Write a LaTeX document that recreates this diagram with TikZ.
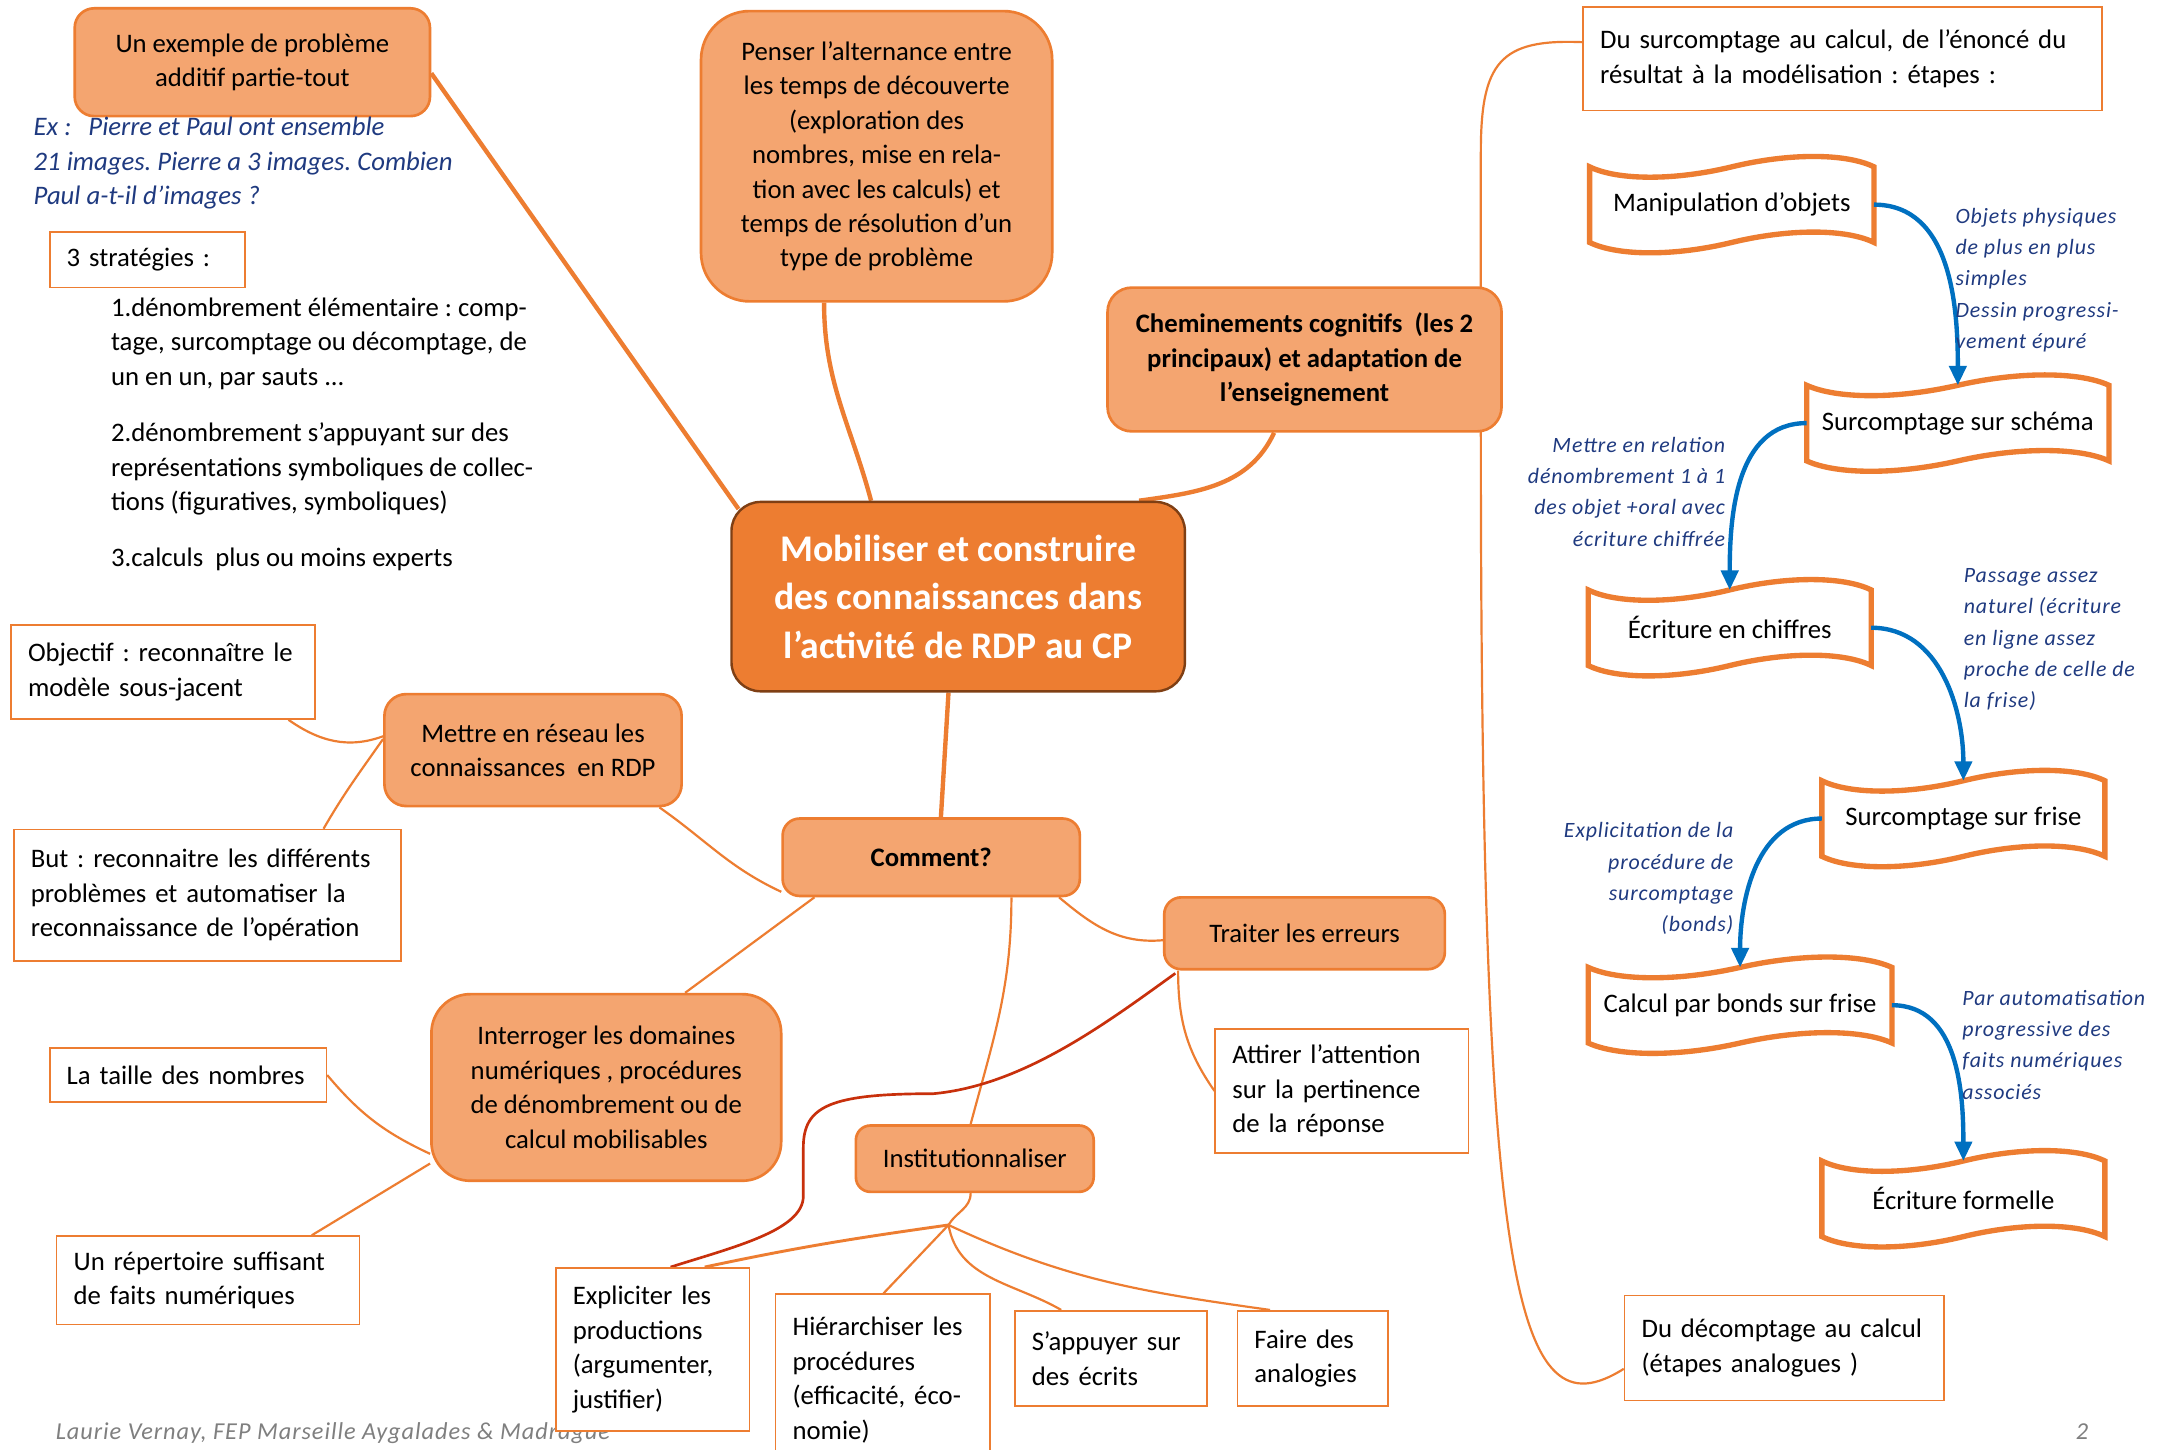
\documentclass[tikz,border=0pt]{standalone}
\usepackage{fontspec}
\setmainfont{Carlito}
\newfontfamily\glossfont[LetterSpace=4]{Carlito}
\usetikzlibrary{arrows.meta,calc,backgrounds}
\frenchspacing
\definecolor{orfill}{HTML}{F4A570}
\definecolor{ordraw}{HTML}{ED7D31}
\definecolor{ordark}{HTML}{7F3F14}
\definecolor{navy}{HTML}{1F3A80}
\definecolor{bluearr}{HTML}{0070C0}
\definecolor{redline}{HTML}{C8300C}
\definecolor{footgray}{HTML}{7F7F7F}
\tikzset{every node/.style={font=\fontsize{11}{14.2}\selectfont},
  idea/.style={draw=ordraw,fill=orfill,line width=1.1pt,rounded corners=7pt,align=center,inner sep=0pt},
  note/.style={draw=ordraw,fill=white,line width=.7pt,align=left,inner xsep=7pt,inner ysep=2pt},
  tape/.style={minimum height=1.08cm,inner sep=0pt,align=center},
  tapeline/.style={draw=ordraw,line width=2.2pt},
  link/.style={draw=ordraw,line width=.9pt},
  trunk/.style={draw=ordraw,line width=1.8pt},
  redlink/.style={draw=redline,line width=1.1pt},
  stepflow/.style={draw=bluearr,line width=1.8pt,-{Triangle[length=8pt,width=7pt]}},
  gloss/.style={text=navy,font=\glossfont\itshape\fontsize{9}{12.9}\selectfont,inner sep=0pt,align=left}}
% wavy outline of a step
\newcommand\tapeframe[1]{%
  \draw[tapeline] (#1.north west)
    .. controls ($(#1.north west)!.1!(#1.north east)+(0,-10)$) and ($(#1.north west)!.3!(#1.north east)+(0,-10)$) .. (#1.north)
    .. controls ($(#1.north west)!.7!(#1.north east)+(0,10)$) and ($(#1.north west)!.9!(#1.north east)+(0,10)$) .. (#1.north east)
    -- (#1.south east)
    .. controls ($(#1.south west)!.9!(#1.south east)+(0,10)$) and ($(#1.south west)!.7!(#1.south east)+(0,10)$) .. (#1.south)
    .. controls ($(#1.south west)!.3!(#1.south east)+(0,-10)$) and ($(#1.south west)!.1!(#1.south east)+(0,-10)$) .. (#1.south west)
    -- cycle;}

\begin{document}
\begin{tikzpicture}[x=0.02cm,y=0.02cm]
\useasboundingbox (0,0) rectangle (1568,-1048);
% footer, partly hidden by a box
\node[gloss,text=footgray,font=\glossfont\itshape\fontsize{10}{12}\selectfont,anchor=base west] (foot) at (40,-1041) {Laurie Vernay, FEP Marseille Aygalades \& Madrague};
\node[gloss,text=footgray,font=\glossfont\itshape\fontsize{10}{12}\selectfont,anchor=base west] (page) at (1501,-1041) {2};

% left column
\node[idea,rounded corners=8pt,minimum width=5.14cm,minimum height=1.56cm] (ex) at (182.5,-45) {Un exemple de problème\\additif partie-tout};
\node[anchor=base west,align=left,text=navy,font=\fontsize{11}{14.2}\selectfont\itshape,inner sep=0pt] (exText) at (24,-148) {Ex :\hspace{4.5pt} Pierre et Paul ont ensemble\\21 images. Pierre a 3 images. Combien\\Paul a-t-il d’images ?};
\node[note,text width=2.33cm,minimum height=0.8cm] (strat) at (106.5,-188) {3 stratégies :};
\node[anchor=base west,align=left,inner sep=0pt] (stratList) at (80,-410) {1.dénombrement élémentaire : comp-\\tage, surcomptage ou décomptage, de\\un en un, par sauts ...\\[9pt]2.dénombrement s’appuyant sur des\\représentations symboliques de collec-\\tions (figuratives, symboliques)\\[9pt]3.calculs~ plus ou moins experts};
\node[note,text width=3.91cm,minimum height=1.36cm] (objectif) at (118,-486) {Objectif : reconnaître le\\modèle sous-jacent};
\node[note,text width=5.11cm,minimum height=1.9cm] (but) at (150,-647.5) {But : reconnaitre les différents\\problèmes et automatiser la\\reconnaissance de l’opération};
\node[note,text width=3.51cm,minimum height=0.78cm] (taille) at (136,-777.5) {La taille des nombres};
\node[note,text width=3.89cm,minimum height=1.28cm] (repertoire) at (150.5,-926) {Un répertoire suffisant\\de faits numériques};

% centre
\node[idea,rounded corners=20pt,minimum width=5.08cm,minimum height=4.2cm] (penser) at (634,-113) {Penser l’alternance entre\\les temps de découverte\\(exploration des\\nombres, mise en rela-\\tion avec les calculs) et\\temps de résolution d’un\\type de problème};
\node[idea,rounded corners=10pt,minimum width=5.7cm,minimum height=2.08cm,font=\fontsize{11}{14.2}\selectfont\bfseries] (chemin) at (943.5,-260) {Cheminements cognitifs~ (les 2\\principaux) et adaptation de\\l’enseignement};
\node[idea,fill=ordraw,draw=ordark,line width=1pt,rounded corners=12pt,minimum width=6.56cm,minimum height=2.74cm,text=white,font=\fontsize{15.5}{19.9}\selectfont\bfseries] (central) at (693,-431.5) {Mobiliser et construire\\des connaissances dans\\l’activité de RDP au CP};
\node[idea,rounded corners=9pt,minimum width=4.3cm,minimum height=1.62cm] (reseau) at (385.5,-542.5) {Mettre en réseau les\\connaissances~ en RDP};
\node[idea,minimum width=4.3cm,minimum height=1.12cm,font=\fontsize{11}{14.2}\selectfont\bfseries] (comment) at (673.5,-620) {Comment?};
\node[idea,rounded corners=16pt,minimum width=5.06cm,minimum height=2.7cm] (interroger) at (438.5,-786.5) {Interroger les domaines\\numériques , procédures\\de dénombrement ou de\\calcul mobilisables};
\node[idea,minimum width=4.06cm,minimum height=1.04cm] (traiter) at (943.5,-675) {Traiter les erreurs};
\node[idea,rounded corners=6pt,minimum width=3.44cm,minimum height=0.96cm] (instit) at (705,-838) {Institutionnaliser};
\node[note,text width=3.17cm,minimum height=1.8cm] (attirer) at (970.5,-789) {Attirer l’attention\\sur la pertinence\\de la réponse};
\node[note,text width=2.31cm,minimum height=2.36cm] (expl) at (472,-976) {Expliciter les\\productions\\(argumenter,\\justifier)};
\node[note,text width=2.61cm,minimum height=2.48cm] (hier) at (638.5,-998) {Hiérarchiser les\\procédures\\(efficacité, éco-\\nomie)};
\node[note,text width=2.29cm,minimum height=1.38cm] (appuyer) at (803.5,-982.5) {S’appuyer sur\\des écrits};
\node[note,text width=1.69cm,minimum height=1.38cm] (faire) at (949.5,-982.5) {Faire des\\analogies};
\coordinate (hub) at ($(instit.south)+(-19,-23)$);

% right column: steps
\node[note,text width=7.01cm,minimum height=1.5cm] (surcalc) at (1332.5,-42.5) {Du surcomptage au calcul, de l’énoncé du\\résultat à la modélisation : étapes :};
\node[note,text width=4.13cm,minimum height=1.52cm] (decompt) at (1290.5,-975) {Du décomptage au calcul\\(étapes analogues )};
\node[tape,minimum width=4.1cm] (manip) at (1252.5,-148) {Manipulation d’objets};
\node[tape,minimum width=4.36cm] (schema) at (1416,-306) {Surcomptage sur schéma};
\node[tape,minimum width=4.08cm] (chiffres) at (1251,-454) {Écriture en chiffres};
\node[tape,minimum width=4.08cm] (frise) at (1420,-592) {Surcomptage sur frise};
\node[tape,minimum width=4.38cm] (bonds) at (1258.5,-727) {Calcul par bonds sur frise};
\node[tape,minimum width=4.08cm] (formelle) at (1420,-867) {Écriture formelle};
\foreach \s in {manip,schema,chiffres,frise,bonds,formelle} {\tapeframe{\s}}

\draw[stepflow] (manip.east) to[out=0,in=90] (schema.north);
\draw[stepflow] (schema.west) to[out=180,in=90] (chiffres.north);
\draw[stepflow] (chiffres.east) to[out=0,in=90] (frise.north);
\draw[stepflow] (frise.west) to[out=180,in=90] (bonds.north);
\draw[stepflow] (bonds.east) to[out=0,in=90] (formelle.north);

\node[gloss,anchor=base west] (glossA) at (1414,-252) {Objets physiques\\de plus en plus\\simples\\Dessin progressi-\\vement épuré};
\node[gloss,anchor=base east,align=right] (glossB) at (1248,-395) {Mettre en relation\\dénombrement 1 à 1\\des objet +oral avec\\écriture chiffrée};
\node[gloss,anchor=base west] (glossC) at (1420,-512) {Passage assez\\naturel (écriture\\en ligne assez\\proche de celle de\\la frise)};
\node[gloss,anchor=base east,align=right] (glossD) at (1254,-674) {Explicitation de la\\procédure de\\surcomptage\\(bonds)};
\node[gloss,anchor=base west] (glossE) at (1419,-795) {Par automatisation\\progressive des\\faits numériques\\associés};

% branches, behind the boxes
\begin{scope}[on background layer]
\fill[white] (0,0) rectangle (1568,-1048);
\draw[trunk] ($(ex.east)+(0,-8)$) -- ($(central.north west)+(6,-6)$);
\draw[trunk] ($(penser.south)+(-38,0)$) to[out=-90,in=105] ($(central.north)+(-63,0)$);
\draw[trunk] ($(chemin.south)+(-22,0)$) to[out=-115,in=8] ($(central.north east)+(-34,0)$);
\draw[trunk] ($(central.south)+(-7,0)$) -- ($(comment.north)+(7,0)$);
\draw[link] ($(surcalc.west)+(0,12)$) .. controls (1085,-28) and (1071,-45) .. (1071,-110) -- (1071,-312) .. controls (1071,-930) and (1095,-1040) .. ($(decompt.west)+(0,-15)$);
\draw[link] ($(objectif.south east)+(-20,0)$) to[out=-35,in=200] ($(reseau.west)+(0,10)$);
\draw[link] ($(reseau.west)+(0,8)$) to[out=-125,in=60] ($(but.north)+(84,0)$);
\draw[link] ($(reseau.south east)+(-17,0)$) to[out=-35,in=155] ($(comment.west)+(0,-25)$);
\draw[link] ($(comment.south west)+(24,0)$) -- ($(interroger.north)+(57,0)$);
\draw[link] ($(comment.south east)+(-16,0)$) to[out=-40,in=185] ($(traiter.west)+(0,-5)$);
\draw[link] ($(comment.south)+(58,0)$) to[out=-90,in=75] ($(instit.north)+(-3,0)$);
\draw[link] ($(interroger.west)+(0,-48)$) to[out=155,in=-50] (taille.east);
\draw[link] ($(interroger.west)+(0,-55)$) -- ($(repertoire.north)+(75,0)$);
\draw[link] ($(traiter.south west)+(11,0)$) to[out=-90,in=125] (attirer.west);
\draw[redlink] ($(traiter.south west)+(9,-2)$) .. controls (800,-740) and (740,-785) .. (675,-791) .. controls (600,-791) and (581,-800) .. (581,-830) -- (581,-865) .. controls (581,-890) and (530,-902) .. ($(expl.north)+(13,0)$);
\draw[link] ($(instit.south)+(-3,0)$) to[out=-90,in=60] (hub);
\draw[link,line width=1.2pt] (hub) to[out=188,in=12] ($(expl.north east)+(-33,0)$);
\draw[link] (hub) -- ($(hier.north)+(0.5,0)$);
\draw[link] (hub) to[out=-80,in=150] ($(appuyer.north)+(-36,0)$);
\draw[link] (hub) to[out=-25,in=172] ($(faire.north)+(-31,0)$);
\end{scope}
\end{tikzpicture}
\end{document}
